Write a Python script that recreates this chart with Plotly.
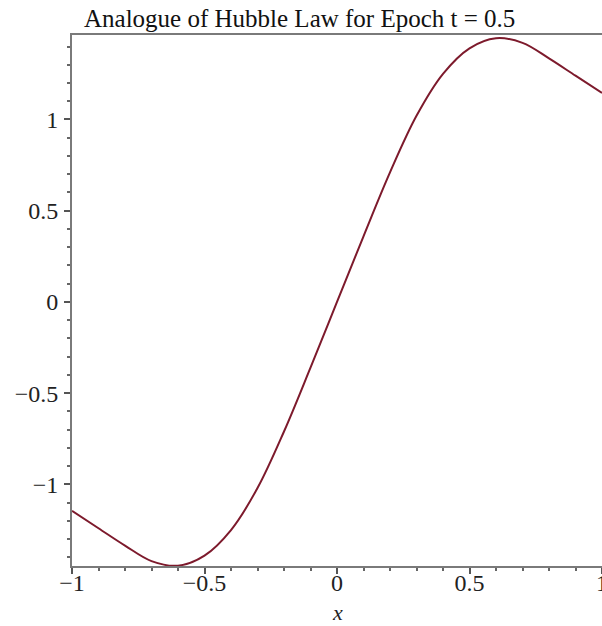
import plotly.graph_objects as go

# Data
x_vals = [-1.0, -0.9, -0.8, -0.7, -0.6, -0.5, -0.4, -0.3, -0.2, -0.1, 0.0,
          0.1, 0.2, 0.3, 0.4, 0.5, 0.6, 0.7, 0.8, 0.9, 1.0]
y_vals = [-1.145, -1.24, -1.335, -1.42, -1.445, -1.39, -1.25, -1.02, -0.71, -0.36, 0.0,
          0.36, 0.71, 1.02, 1.25, 1.39, 1.445, 1.42, 1.335, 1.24, 1.145]

x_tickvals = [-1, -0.5, 0, 0.5, 1]
x_ticktext = ["\u22121", "\u22120.5", "0", "0.5", "1"]
y_tickvals = [-1, -0.5, 0, 0.5, 1]
y_ticktext = ["\u22121", "\u22120.5", "0", "0.5", "1"]

title_text = "Analogue of Hubble Law for Epoch t = 0.5"
x_label = "x"

W, H = 602, 626
ML, MR, MT, MB = 72, 0, 35, 60

serif = "Liberation Serif, Times New Roman, serif"

fig = go.Figure()
fig.add_trace(go.Scatter(
    x=x_vals, y=y_vals, mode="lines",
    line=dict(color="#7d1a2c", width=2, shape="spline", smoothing=1.0),
    hoverinfo="skip", showlegend=False,
))

axis_common = dict(
    showgrid=False, zeroline=False, showline=True, linecolor="#7a7a7a", linewidth=2,
    ticks="outside", ticklen=6, tickwidth=1.5, tickcolor="#555555",
    tickfont=dict(family=serif, size=24, color="#222222"),
    minor=dict(dtick=0.1, ticks="outside", ticklen=3, tickwidth=1.5, tickcolor="#666666"),
    automargin=False, ticklabeloverflow="allow",
)

fig.update_xaxes(
    range=[-1.0, 1.0], tickmode="array", tickvals=x_tickvals, ticktext=x_ticktext,
    mirror=True, ticklabelstandoff=-12, **axis_common,
)
fig.update_yaxes(
    range=[-1.447, 1.463], tickmode="array", tickvals=y_tickvals, ticktext=y_ticktext,
    ticklabelstandoff=1, **axis_common,
)

fig.add_annotation(
    text="<i>" + x_label + "</i>", xref="x", x=0.0, yref="paper",
    y=-(612 - (H - MB)) / (H - MT - MB), yanchor="middle", showarrow=False,
    font=dict(family=serif, size=22, color="#222222"),
)
fig.add_annotation(
    text=title_text, xref="paper", x=(82 - ML) / (W - ML - MR), xanchor="left",
    yref="paper", y=1 + (MT - 19) / (H - MT - MB), yanchor="middle", showarrow=False,
    font=dict(family=serif, size=25, color="#111111"),
)

fig.update_layout(
    width=W, height=H, margin=dict(l=ML, r=MR, t=MT, b=MB),
    paper_bgcolor="white", plot_bgcolor="white",
)

fig.write_html(
    "out.html",
    config={"displayModeBar": False},
    post_script="document.body.style.margin='0px';document.body.style.overflow='hidden';",
)
